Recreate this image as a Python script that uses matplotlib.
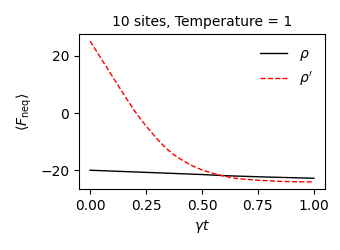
import numpy as np
import matplotlib
matplotlib.use("Agg")
import matplotlib.pyplot as plt

t = [0.0, 0.05, 0.1, 0.15, 0.2, 0.225, 0.25, 0.275, 0.3, 0.325, 0.35, 0.375, 0.4,
     0.45, 0.5, 0.55, 0.6, 0.65, 0.7, 0.75, 0.8, 0.85, 0.9, 0.95, 1.0]
rho = [-20.0, -20.15, -20.3, -20.45, -20.6, -20.67, -20.75, -20.82, -20.9, -20.97, -21.05, -21.12, -21.2,
       -21.35, -21.5, -21.7, -21.9, -22.03, -22.15, -22.28, -22.4, -22.5, -22.6, -22.7, -22.8]
rho_p = [25.2, 19.0, 12.8, 6.6, 0.6, -2.0, -4.5, -6.8, -9.1, -11.2, -13.0, -14.6, -15.9,
         -18.2, -19.9, -21.1, -22.1, -22.8, -23.2, -23.5, -23.7, -23.9, -24.0, -24.05, -24.1]

fig = plt.figure(figsize=(3.4, 2.5), dpi=100)
ax = fig.add_axes([0.232, 0.244, 0.724, 0.62])
ax.plot(t, rho, color='black', lw=1, label=r'$\rho$')
ax.plot(t, rho_p, color='red', lw=1, ls='--', label=r"$\rho'$")
ax.set_title('10 sites, Temperature = 1', fontsize=10)
ax.set_xlabel(r'$\gamma t$')
ax.set_ylabel(r'$\langle F_{\rm neq}\rangle$')
ax.set_xticks([0.0, 0.25, 0.5, 0.75, 1.0])
ax.legend(frameon=False, loc='upper right')
fig.savefig('out.png', dpi=100)
